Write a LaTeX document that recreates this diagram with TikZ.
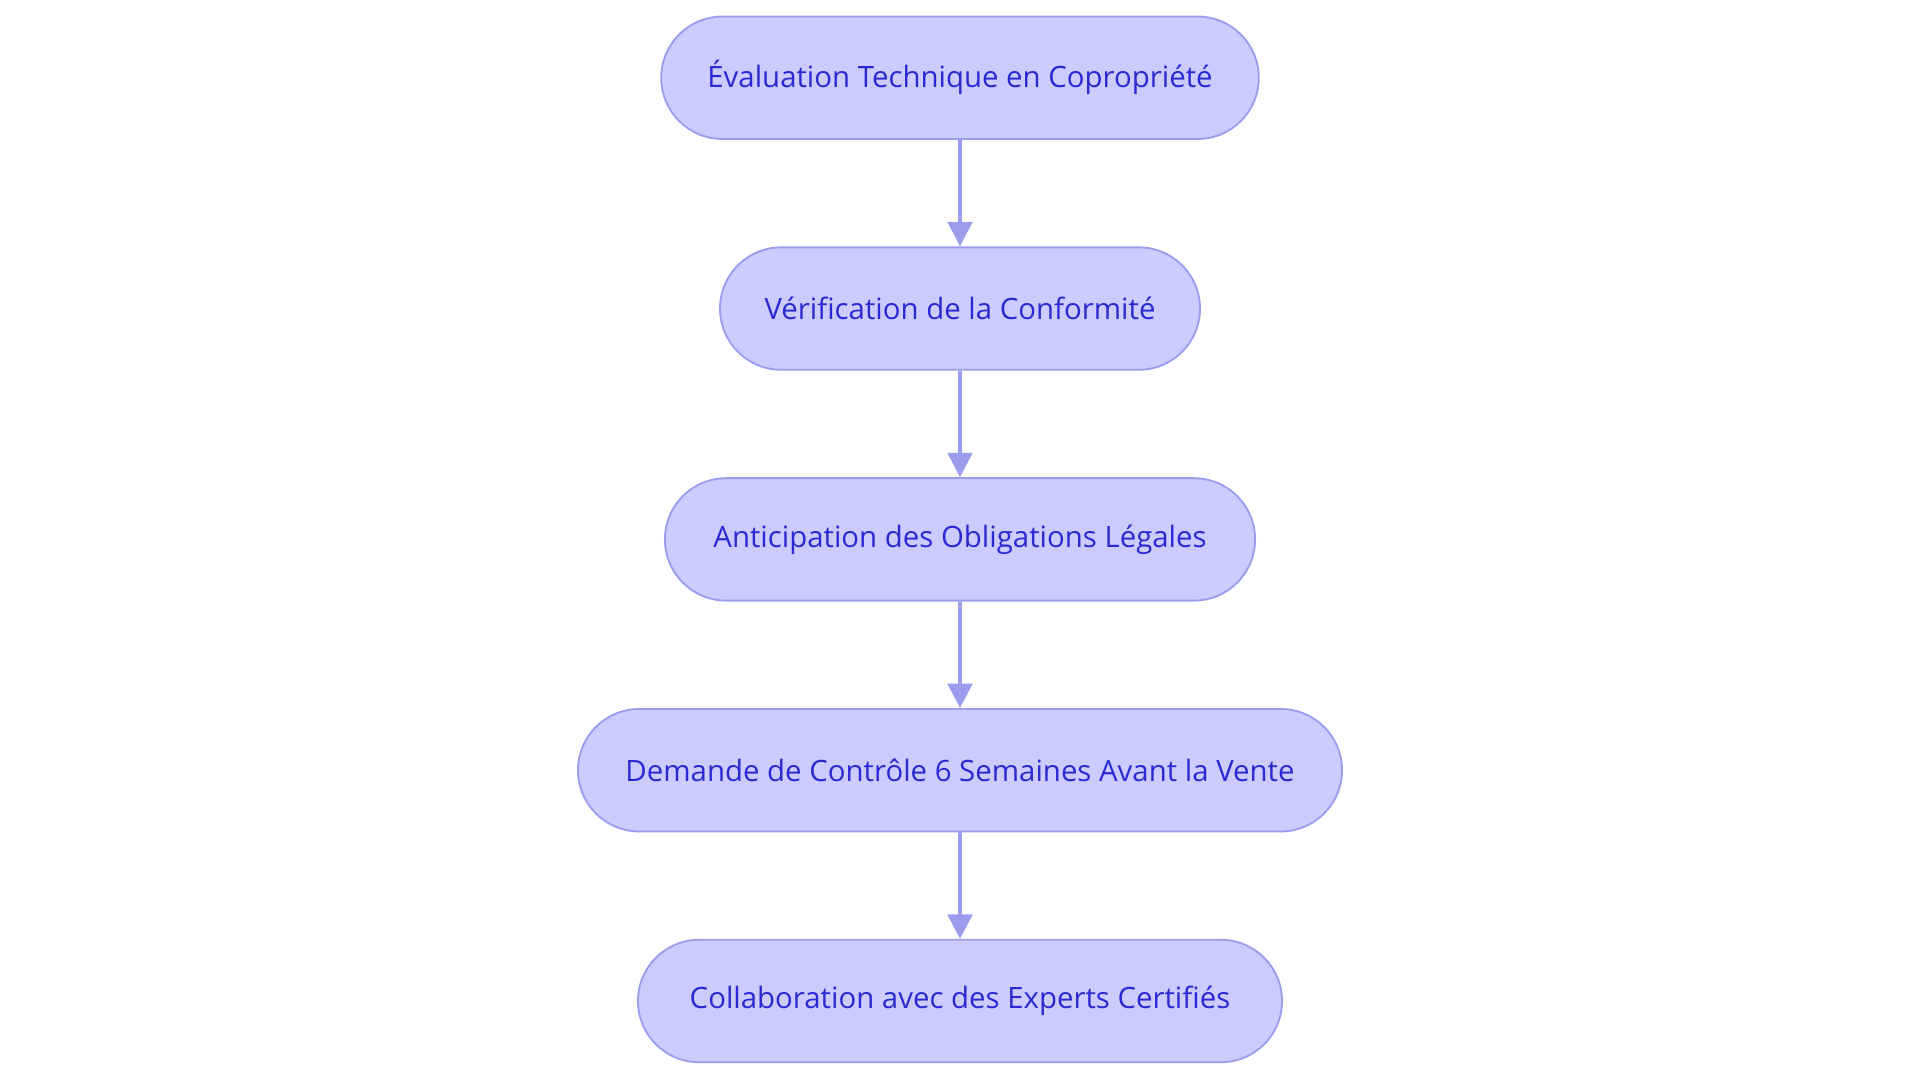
\documentclass[tikz,border=0pt]{standalone}
\usepackage{fontspec}
\setmainfont{Open Sans}
\usetikzlibrary{arrows.meta}
\definecolor{fillc}{HTML}{CBCBFE}
\definecolor{linec}{HTML}{9A9CEE}
\definecolor{textc}{HTML}{2A2AD2}
\begin{document}
\begin{tikzpicture}[x=1pt,y=-1pt,
  box/.style={draw=linec,line width=1.5pt,fill=fillc,rounded corners=50pt,minimum height=100pt,text=textc,font=\fontsize{24}{28}\selectfont,inner sep=0pt},
  arr/.style={draw=linec,line width=3pt,-{Triangle[width=20pt,length=20pt]}}]
\useasboundingbox (0,0) rectangle (1568,885);
\node[box,minimum width=488pt] (a) at (784,63.5) {Évaluation Technique en Copropriété};
\node[box,minimum width=392pt] (b) at (784,252) {Vérification de la Conformité};
\node[box,minimum width=482pt] (c) at (784,440.5) {Anticipation des Obligations Légales};
\node[box,minimum width=624pt] (d) at (784,629) {Demande de Contrôle 6 Semaines Avant la Vente};
\node[box,minimum width=526pt] (e) at (784,817.5) {Collaboration avec des Experts Certifiés};
\draw[arr] (a) -- (b);
\draw[arr] (b) -- (c);
\draw[arr] (c) -- (d);
\draw[arr] (d) -- (e);
\end{tikzpicture}
\end{document}
